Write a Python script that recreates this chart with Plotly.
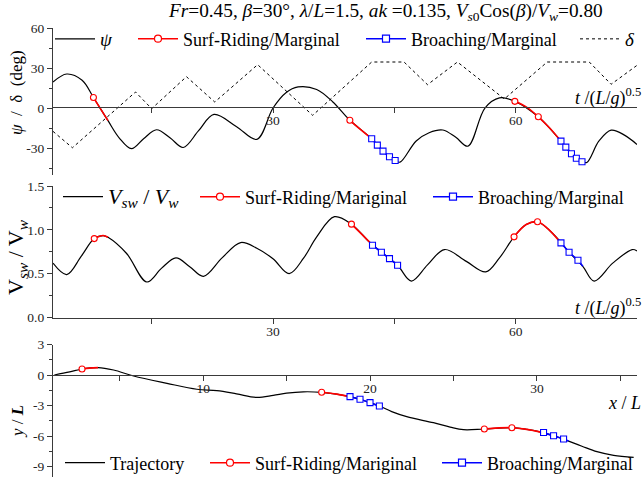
import plotly.graph_objects as go

W, H = 644, 477

# ---------------- data ----------------
# Panel 1: heading angle psi and rudder angle delta vs t/(L/g)^0.5
psi_t = [2.8, 4.5, 6.4, 7.8, 9.6, 11.0, 12.5, 14.0, 15.6, 17.3, 18.9, 20.8, 22.7, 25.5, 28.0,
         30.0, 31.6, 33.1, 35.4, 37.4, 39.5, 42.2, 43.6, 45.1, 45.7, 47.7, 49.3, 51.0, 52.6,
         54.1, 56.2, 58.0, 59.9, 62.8, 65.6, 66.9, 68.2, 68.8, 70.3, 71.8, 73.5, 75.0]
psi_deg = [19.5, 25.5, 20.8, 7.9, -9.5, -22.5, -30.5, -23.0, -16.3, -22.5, -29.6, -17.0, -4.8, -14.0, -23.5,
           0.0, 11.5, 15.8, 13.9, 4.5, -9.2, -23.0, -32.3, -39.3, -40.6, -24.7, -18.5, -16.5, -22.0,
           -28.6, 0.0, 7.6, 5.0, -6.6, -24.8, -34.3, -40.3, -40.8, -24.7, -16.6, -20.5, -27.3]

delta_t = [2.8, 5.2, 13.0, 15.0, 19.3, 22.8, 28.1, 34.9, 42.2, 46.2, 49.1, 52.8, 58.6, 63.9, 69.1, 71.8, 75.0]
delta_deg = [-17.5, -29.8, 12.0, -0.5, 23.5, 4.5, 32.5, -5.5, 34.5, 34.5, 17.5, 34.5, 6.8, 34.5, 34.5, 17.8, 32.0]

psi_surf_t = [7.8, 8.7, 9.6, None, 39.5, 40.8, 42.2, None, 59.9, 61.3, 62.8, 64.2, 65.6]
psi_surf = [7.9, -0.8, -9.5, None, -9.2, -16.0, -23.0, None, 5.0, 0.8, -6.6, -15.0, -24.8]
psi_surf_mk_t = [7.8, 39.5, 59.9, 62.8]
psi_surf_mk = [7.9, -9.2, 5.0, -6.6]
psi_broach_t = [42.2, 42.9, 43.6, 44.4, 45.1, None, 65.6, 66.2, 66.9, 67.5, 68.2]
psi_broach = [-23.0, -27.8, -32.3, -36.5, -39.3, None, -24.8, -29.3, -34.3, -37.7, -40.3]

# Panel 2: surge velocity ratio
v_t = [2.8, 4.5, 6.3, 7.9, 9.0, 9.6, 11.9, 14.4, 16.2, 18.0, 19.7, 21.4, 23.7, 26.0, 28.0, 30.0,
       32.0, 33.8, 35.4, 37.6, 39.7, 41.9, 43.4, 45.4, 47.1, 49.1, 51.2, 53.9, 56.3, 58.0, 59.8,
       61.3, 62.7, 65.0, 66.6, 68.3, 69.7, 72.0, 74.4, 75.0]
v_ratio = [0.62, 0.49, 0.70, 0.90, 0.935, 0.915, 0.73, 0.405, 0.56, 0.68, 0.58, 0.47, 0.68, 0.855, 0.79, 0.67,
           0.50, 0.68, 0.92, 1.15, 1.065, 0.862, 0.745, 0.596, 0.416, 0.60, 0.775, 0.64, 0.52, 0.68, 0.92,
           1.06, 1.092, 0.92, 0.745, 0.584, 0.416, 0.62, 0.775, 0.76]

v_surf_t = [7.9, 8.5, 9.0, 9.6, None, 39.7, 40.8, 42.2, None, 59.8, 61.3, 62.7, 64.0, 65.3]
v_surf = [0.90, 0.925, 0.935, 0.915, None, 1.065, 0.965, 0.835, None, 0.92, 1.06, 1.092, 1.01, 0.88]
v_surf_mk_t = [7.9, 39.7, 59.8, 62.7]
v_surf_mk = [0.90, 1.065, 0.92, 1.092]
v_broach_t = [42.2, 43.4, 44.4, 45.4, None, 65.3, 65.6, 66.6, 67.7, 68.3]
v_broach = [0.83, 0.745, 0.672, 0.596, None, 0.88, 0.851, 0.745, 0.653, 0.584]
v_broach_mk_t = [42.3, 43.4, 44.4, 45.4, 65.6, 66.6, 67.7]
v_broach_mk = [0.825, 0.745, 0.672, 0.596, 0.851, 0.745, 0.653]

# Panel 3: trajectory
traj_x = [1.08, 2.0, 2.74, 3.7, 4.63, 5.83, 7.83, 9.62, 10.82, 12.0, 13.2, 14.2, 15.0, 16.0, 17.1,
          18.0, 18.8, 19.4, 20.0, 20.56, 21.3, 22.2, 23.8, 24.8, 25.6, 26.85, 28.5, 29.4, 30.3, 31.0,
          31.6, 31.9, 32.7, 33.6, 34.6, 35.8]
traj_y = [0.0, 0.3, 0.59, 0.73, 0.49, -0.1, -0.82, -1.4, -1.54, -1.85, -2.2, -2.0, -1.78, -1.65, -1.7,
          -1.88, -2.13, -2.39, -2.72, -3.05, -3.6, -4.1, -4.69, -5.12, -5.38, -5.31, -5.18, -5.35, -5.64, -5.97,
          -6.3, -6.5, -7.0, -7.54, -7.9, -8.1]
traj_surf_x = [2.74, 3.2, 3.7, None, 17.1, 18.0, 18.8, None, 26.85, 28.5, 29.4, 30.3]
traj_surf_y = [0.59, 0.68, 0.73, None, -1.7, -1.88, -2.13, None, -5.31, -5.18, -5.35, -5.64]
traj_surf_mk_x = [2.74, 17.1, 26.85, 28.5]
traj_surf_mk_y = [0.59, -1.7, -5.31, -5.18]
traj_broach_x = [18.8, 19.4, 20.0, 20.56, None, 30.3, 31.0, 31.6, 31.9]
traj_broach_y = [-2.13, -2.39, -2.72, -3.05, None, -5.64, -5.97, -6.3, -6.5]
traj_broach_mk_x = [18.8, 19.4, 20.0, 20.56, 30.4, 31.0, 31.6]
traj_broach_mk_y = [-2.13, -2.39, -2.72, -3.05, -5.66, -5.97, -6.3]

# tick labels
t_tickvals = [15, 30, 45, 60]
t_ticktext = ["", "30", "", "60"]
psi_tickvals = [60, 30, 0, -30]
psi_ticktext = ["60", "30", "0", "-30"]
psi_minor = [45, 15, -15, -45]
v_tickvals = [1.5, 1.0, 0.5, 0.0]
v_ticktext = ["1.5", "1.0", "0.5", "0.0"]
v_minor = [1.25, 0.75, 0.25]
x_tickvals = [5, 10, 15, 20, 25, 30, 35]
x_ticktext = ["", "10", "", "20", "", "30", ""]
y_tickvals = [3, 0, -3, -6, -9]
y_ticktext = ["3", "0", "-3", "-6", "-9"]
y_minor = [1.5, -1.5, -4.5, -7.5]

SURF_NAME_1 = "Surf-Riding/Marginal"
SURF_NAME_2 = "Surf-Riding/Mariginal"
BROACH_NAME = "Broaching/Marginal"

# ---------------- figure ----------------
FONT = "Liberation Serif, Times New Roman, serif"
RED = "#ff0000"
BLUE = "#0000ff"
AX = "#3a3a3a"

fig = go.Figure()


def add_panel(xa, ya, xs, ys, main_name, main_leg, sx, sy, smx, smy, sname, sleg,
              bx, by, bmx, bmy, bname, bleg):
    fig.add_trace(go.Scatter(x=xs, y=ys, mode="lines", xaxis=xa, yaxis=ya,
                             line=dict(color="black", width=1.2, shape="spline"),
                             name=main_name, legend=main_leg))
    fig.add_trace(go.Scatter(x=sx, y=sy, mode="lines", xaxis=xa, yaxis=ya, showlegend=False,
                             line=dict(color=RED, width=1.6, shape="spline"), connectgaps=False))
    fig.add_trace(go.Scatter(x=smx, y=smy, mode="markers", xaxis=xa, yaxis=ya, showlegend=False,
                             marker=dict(symbol="circle", size=6, color="white",
                                         line=dict(color=RED, width=1.1))))
    fig.add_trace(go.Scatter(x=bx, y=by, mode="lines", xaxis=xa, yaxis=ya, showlegend=False,
                             line=dict(color=BLUE, width=1.6, shape="spline"), connectgaps=False))
    fig.add_trace(go.Scatter(x=bmx, y=bmy, mode="markers", xaxis=xa, yaxis=ya, showlegend=False,
                             marker=dict(symbol="square", size=6, color="white",
                                         line=dict(color=BLUE, width=1.1))))
    # legend-only entries
    fig.add_trace(go.Scatter(x=[None], y=[None], mode="lines+markers", xaxis=xa, yaxis=ya,
                             name=sname, legend=sleg,
                             line=dict(color=RED, width=1.6),
                             marker=dict(symbol="circle", size=7, color="white",
                                         line=dict(color=RED, width=1.2))))
    fig.add_trace(go.Scatter(x=[None], y=[None], mode="lines+markers", xaxis=xa, yaxis=ya,
                             name=bname, legend=bleg,
                             line=dict(color=BLUE, width=1.6),
                             marker=dict(symbol="square", size=7, color="white",
                                         line=dict(color=BLUE, width=1.2))))


# panel 1 delta (dotted)
fig.add_trace(go.Scatter(x=delta_t, y=delta_deg, mode="lines", xaxis="x", yaxis="y",
                         line=dict(color="black", width=1, dash="dot"),
                         name="<i>δ</i>", legend="legend4"))
add_panel("x", "y", psi_t, psi_deg, "<i>ψ</i>", "legend",
          psi_surf_t, psi_surf, psi_surf_mk_t, psi_surf_mk, SURF_NAME_1, "legend2",
          psi_broach_t, psi_broach, psi_broach_t, psi_broach, BROACH_NAME, "legend3")
add_panel("x2", "y2", v_t, v_ratio,
          "<span style='font-size:22px'><i>V</i><sub><i>sw</i></sub> / <i>V</i><sub><i>w</i></sub></span>",
          "legend5",
          v_surf_t, v_surf, v_surf_mk_t, v_surf_mk, SURF_NAME_2, "legend6",
          v_broach_t, v_broach, v_broach_mk_t, v_broach_mk, BROACH_NAME, "legend7")
add_panel("x3", "y3", traj_x, traj_y, "Trajectory", "legend8",
          traj_surf_x, traj_surf_y, traj_surf_mk_x, traj_surf_mk_y, SURF_NAME_2, "legend9",
          traj_broach_x, traj_broach_y, traj_broach_mk_x, traj_broach_mk_y, BROACH_NAME, "legend10")


def px_x(p):
    return p / W


def px_y(p):
    return 1 - p / H


XDOM = [px_x(53), px_x(637)]
tickfont = dict(family=FONT, size=13.5, color="#222")

common_x = dict(showgrid=False, zeroline=False, showline=True, linecolor=AX, linewidth=1.3,
                ticks="outside", ticklen=5, tickwidth=1, tickcolor=AX, tickfont=tickfont,
                tickmode="array", domain=XDOM, ticklabelstandoff=-4)
common_y = dict(showgrid=False, zeroline=False, showline=True, linecolor=AX, linewidth=1.3,
                ticks="outside", ticklen=5, tickwidth=1, tickcolor=AX, tickfont=tickfont,
                tickmode="array")

fig.update_layout(
    xaxis=dict(common_x, range=[2.8, 75], tickvals=t_tickvals, ticktext=t_ticktext,
               anchor="free", position=px_y(107)),
    yaxis=dict(common_y, range=[-50, 60], domain=[px_y(174.7), px_y(28)],
               tickvals=psi_tickvals, ticktext=psi_ticktext, anchor="x",
               minor=dict(tickmode="array", tickvals=psi_minor, ticks="outside", ticklen=3,
                          tickcolor=AX)),
    xaxis2=dict(common_x, range=[2.8, 75], tickvals=t_tickvals, ticktext=t_ticktext,
                anchor="y2"),
    yaxis2=dict(common_y, range=[0, 1.5], domain=[px_y(317.5), px_y(186)],
                tickvals=v_tickvals, ticktext=v_ticktext, anchor="x2",
                minor=dict(tickmode="array", tickvals=v_minor, ticks="outside", ticklen=3,
                           tickcolor=AX)),
    xaxis3=dict(common_x, range=[1, 36], tickvals=x_tickvals, ticktext=x_ticktext,
                anchor="free", position=px_y(375)),
    yaxis3=dict(common_y, range=[-10.03, 3], domain=[0, px_y(344.5)],
                tickvals=y_tickvals, ticktext=y_ticktext, anchor="x3",
                minor=dict(tickmode="array", tickvals=y_minor, ticks="outside", ticklen=3,
                           tickcolor=AX)),
)


def leg(xpx, ypx, size=18):
    return dict(x=px_x(xpx - 5), y=px_y(ypx), xanchor="left", yanchor="middle",
                orientation="h", bgcolor="rgba(0,0,0,0)", borderwidth=0, itemwidth=40,
                font=dict(family=FONT, size=size, color="black"),
                itemsizing="trace", tracegroupgap=0)


fig.update_layout(
    legend=leg(55, 39, 19), legend2=leg(138, 39), legend3=leg(366, 39), legend4=leg(580, 39, 19),
    legend5=leg(63, 197), legend6=leg(200, 197), legend7=leg(433, 197),
    legend8=leg(65, 463), legend9=leg(210, 463), legend10=leg(442, 463),
)

ann = []
ann.append(dict(text="<i>Fr</i>=0.45, <i>β</i>=30°, <i>λ</i>/<i>L</i>=1.5, <i>ak</i> =0.135, "
                     "<i>V</i><sub><i>s</i>0</sub>Cos(<i>β</i>)/<i>V</i><sub><i>w</i></sub>=0.80",
                x=px_x(385), y=px_y(12), xanchor="center", yanchor="middle",
                font=dict(family=FONT, size=19.3, color="black")))
ann.append(dict(text="<i>ψ</i>  /  δ  (deg)", textangle=-90,
                x=px_x(17), y=px_y(93), xanchor="center", yanchor="middle",
                font=dict(family=FONT, size=17, color="black")))
ann.append(dict(text="V<sub><i>sw</i></sub> / V<sub><i>w</i></sub>", textangle=-90,
                x=px_x(17), y=px_y(257), xanchor="center", yanchor="middle",
                font=dict(family=FONT, size=22, color="black")))
ann.append(dict(text="<i>y</i> / <b><i>L</i></b>", textangle=-90,
                x=px_x(17), y=px_y(422), xanchor="center", yanchor="middle",
                font=dict(family=FONT, size=17, color="black")))
ann.append(dict(text="<i>t</i> /(<i>L</i>/<i>g</i>)<sup>0.5</sup>",
                x=px_x(643), y=px_y(97), xanchor="right", yanchor="middle",
                font=dict(family=FONT, size=18, color="black")))
ann.append(dict(text="<i>t</i> /(<i>L</i>/<i>g</i>)<sup>0.5</sup>",
                x=px_x(643), y=px_y(307), xanchor="right", yanchor="middle",
                font=dict(family=FONT, size=18, color="black")))
ann.append(dict(text="<i>x</i> / <i>L</i>",
                x=px_x(643), y=px_y(403), xanchor="right", yanchor="middle",
                font=dict(family=FONT, size=18, color="black")))
for a in ann:
    a.update(xref="paper", yref="paper", showarrow=False)

fig.update_layout(annotations=ann, width=W, height=H, autosize=False,
                  margin=dict(l=0, r=0, t=0, b=0, pad=0, autoexpand=False),
                  paper_bgcolor="white", plot_bgcolor="rgba(0,0,0,0)",
                  font=dict(family=FONT, color="black"))

fig.write_html("out.html")
